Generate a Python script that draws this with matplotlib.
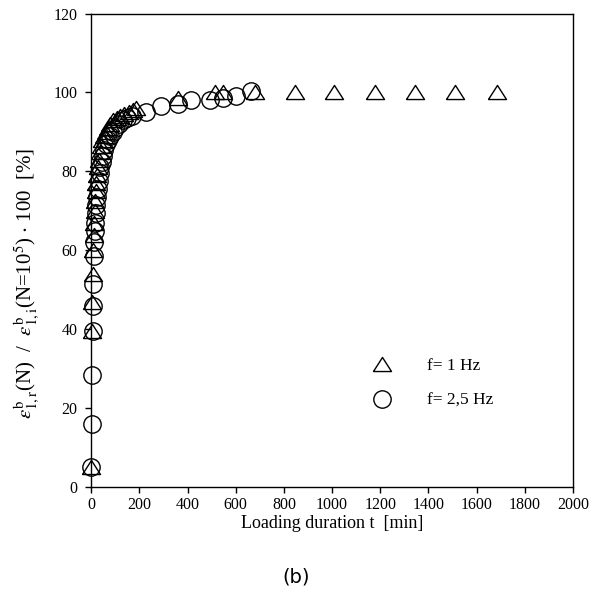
import matplotlib
matplotlib.use('Agg')
import matplotlib.pyplot as plt

# ——— DATA ———
# f = 1 Hz: loading duration [min] and normalised strain [%]
t_1hz = [0, 2, 4, 6, 8, 10, 12, 14, 16, 18, 20, 23, 26, 30, 35, 40, 46, 52,
         60, 68, 78, 90, 105, 120, 137, 155, 175, 187,
         358, 512, 549, 678, 845, 1010, 1177, 1343, 1509, 1684]
e_1hz = [5, 39.5, 47, 54, 60, 64, 67, 70, 72.5, 75, 77, 79, 81, 83, 85, 86.5, 88, 89,
         90, 91, 92, 93, 93.5, 94, 94.5, 95, 95.5, 96,
         98.5, 100, 100, 100, 100, 100, 100, 100, 100, 100]

# f = 2,5 Hz
t_25hz = [0, 1, 3, 5, 7, 9, 11, 13, 15, 17, 19, 21, 24, 27, 30, 34, 38, 43, 48,
          54, 60, 68, 77, 88, 100, 115, 130, 150, 170,
          229, 291, 358, 412, 491, 549, 603, 665]
e_25hz = [5, 16, 28.5, 39.5, 46, 51.5, 58.5, 62, 65, 67, 69.5, 71.5, 73.5, 75.5, 77.5, 79.5, 81, 82.5, 84,
          85.5, 87, 88, 89, 90, 91, 92, 93, 93.5, 94,
          95, 96.5, 97, 98, 98, 98.5, 99.2, 100.5]

labels = ['f= 1 Hz', 'f= 2,5 Hz']
x_ticks = list(range(0, 2001, 200))
y_ticks = list(range(0, 121, 20))

# ——— STYLE ———
plt.rcParams['font.family'] = ['Liberation Serif', 'DejaVu Serif']
plt.rcParams['mathtext.fontset'] = 'stix'

# slightly flattened open triangle
tri = [(-1, -0.78), (1, -0.78), (0, 0.78), (-1, -0.78)]

fig = plt.figure(figsize=(5.93, 5.91), dpi=100)
ax = fig.add_axes([0.154, 0.176, 0.812, 0.801])

ax.plot(t_1hz, e_1hz, linestyle='none', marker=tri, markersize=13,
        markerfacecolor='none', markeredgecolor='black', markeredgewidth=1.0,
        label=labels[0], clip_on=False)
ax.plot(t_25hz, e_25hz, linestyle='none', marker='o', markersize=12.5,
        markerfacecolor='none', markeredgecolor='black', markeredgewidth=1.0,
        label=labels[1], clip_on=False)

ax.set_xlim(0, 2000)
ax.set_ylim(0, 120)
ax.set_xticks(x_ticks)
ax.set_yticks(y_ticks)
ax.tick_params(direction='out', length=4, width=1, labelsize=11.5, colors='black')
ax.tick_params(axis='x', pad=3.5)
ax.tick_params(axis='y', pad=6)
for sp in ax.spines.values():
    sp.set_linewidth(1.0)

ax.set_xlabel('Loading duration t  [min]', fontsize=13)
ax.xaxis.set_label_coords(0.5, -0.06)
ax.set_ylabel(r'$\varepsilon^{\mathrm{b}}_{1,\mathrm{r}}$(N)  /  $\varepsilon^{\mathrm{b}}_{1,\mathrm{i}}$(N=10$^5$) $\cdot$ 100  [%]',
              fontsize=15)
ax.yaxis.set_label_coords(-0.105, 0.43)

ax.legend(loc='upper left', bbox_to_anchor=(0.55, 0.305), frameon=False,
          fontsize=12.5, handlelength=1.2, handletextpad=2.0, labelspacing=1.05)

fig.text(0.5, 0.024, '(b)', ha='center', va='center', fontsize=14,
         family='DejaVu Sans')

fig.savefig('out.png', dpi=100)
